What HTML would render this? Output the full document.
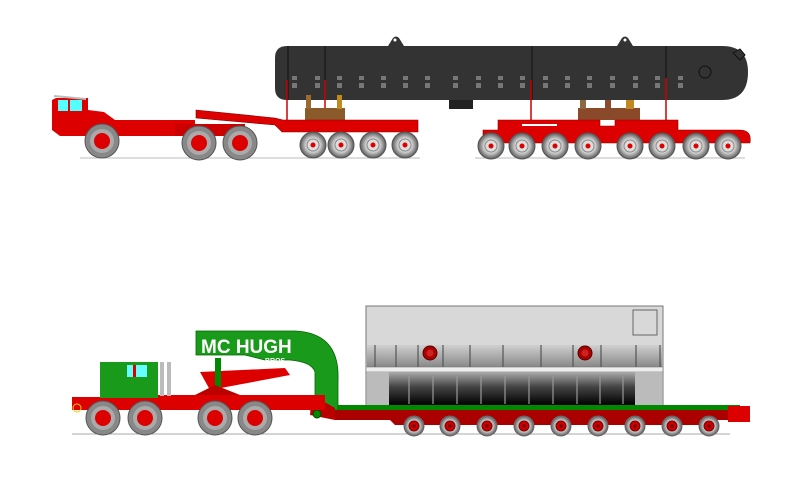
<!DOCTYPE html>
<html><head><style>html,body{margin:0;padding:0;background:#fff;}svg{display:block}</style></head><body>
<svg width="787" height="481" viewBox="0 0 787 481" xmlns="http://www.w3.org/2000/svg" font-family="Liberation Sans, sans-serif">
<defs>
<radialGradient id="tire" cx="50%" cy="50%" r="50%"><stop offset="0.55" stop-color="#d0d0d0"/><stop offset="1" stop-color="#5a5a5a"/></radialGradient>
<linearGradient id="dark" x1="0" y1="0" x2="0" y2="1"><stop offset="0" stop-color="#aaa"/><stop offset="0.45" stop-color="#444"/><stop offset="1" stop-color="#000"/></linearGradient>
<linearGradient id="mid" x1="0" y1="0" x2="0" y2="1"><stop offset="0" stop-color="#d0d0d0"/><stop offset="1" stop-color="#888"/></linearGradient>
<g id="w"><circle r="13" fill="url(#tire)" stroke="#555"/><circle r="6" fill="#ddd" stroke="#888"/><circle r="2.5" fill="#d00"/></g>
<g id="bw"><circle r="17" fill="#888" stroke="#555"/><circle r="12" fill="#aaa"/><circle r="8" fill="#d00"/></g>
<g id="sw"><circle r="10" fill="url(#tire)" stroke="#666"/><circle r="5" fill="#c00" stroke="#700"/><circle r="1.8" fill="#700"/></g>
</defs>

<!-- TOP -->
<line x1="80" y1="158" x2="420" y2="158" stroke="#bbb"/>
<line x1="475" y1="158" x2="745" y2="158" stroke="#bbb"/>
<path d="M287 46 H722 Q748 46 748 72 Q748 100 722 100 H287 Q275 100 275 88 V58 Q275 46 287 46Z" fill="#333"/>
<path d="M388 46 L393 38 Q396 35 399 38 L404 46Z M617 46 L622 38 Q625 35 628 38 L633 46Z" fill="#333"/>
<circle cx="395" cy="40" r="1.5" fill="#fff"/><circle cx="625" cy="40" r="1.5" fill="#fff"/>
<path d="M733 53 L740 49 L745 55 L740 60Z" fill="#333" stroke="#111"/>
<circle cx="705" cy="72" r="6" fill="none" stroke="#111"/>
<g stroke="#111"><line x1="288" y1="46" x2="288" y2="100"/><line x1="325" y1="46" x2="325" y2="100"/><line x1="532" y1="46" x2="532" y2="100"/><line x1="666" y1="46" x2="666" y2="100"/></g>
<g fill="#777">
<rect x="292" y="76" width="5" height="4"/><rect x="292" y="83" width="5" height="5"/>
<rect x="315" y="76" width="5" height="4"/><rect x="315" y="83" width="5" height="5"/>
<rect x="337" y="76" width="5" height="4"/><rect x="337" y="83" width="5" height="5"/>
<rect x="359" y="76" width="5" height="4"/><rect x="359" y="83" width="5" height="5"/>
<rect x="381" y="76" width="5" height="4"/><rect x="381" y="83" width="5" height="5"/>
<rect x="403" y="76" width="5" height="4"/><rect x="403" y="83" width="5" height="5"/>
<rect x="425" y="76" width="5" height="4"/><rect x="425" y="83" width="5" height="5"/>
<rect x="453" y="76" width="5" height="4"/><rect x="453" y="83" width="5" height="5"/>
<rect x="476" y="76" width="5" height="4"/><rect x="476" y="83" width="5" height="5"/>
<rect x="498" y="76" width="5" height="4"/><rect x="498" y="83" width="5" height="5"/>
<rect x="520" y="76" width="5" height="4"/><rect x="520" y="83" width="5" height="5"/>
<rect x="543" y="76" width="5" height="4"/><rect x="543" y="83" width="5" height="5"/>
<rect x="565" y="76" width="5" height="4"/><rect x="565" y="83" width="5" height="5"/>
<rect x="587" y="76" width="5" height="4"/><rect x="587" y="83" width="5" height="5"/>
<rect x="610" y="76" width="5" height="4"/><rect x="610" y="83" width="5" height="5"/>
<rect x="633" y="76" width="5" height="4"/><rect x="633" y="83" width="5" height="5"/>
<rect x="655" y="76" width="5" height="4"/><rect x="655" y="83" width="5" height="5"/>
<rect x="678" y="76" width="5" height="4"/><rect x="678" y="83" width="5" height="5"/>
</g>
<rect x="449" y="100" width="24" height="9" fill="#222"/>
<g stroke="#c00" stroke-width="1.5"><line x1="287" y1="80" x2="287" y2="120"/><line x1="325" y1="80" x2="325" y2="120"/><line x1="531" y1="80" x2="531" y2="121"/><line x1="666" y1="78" x2="666" y2="121"/></g>
<rect x="305" y="108" width="40" height="12" fill="#8a5a2a"/><rect x="306" y="95" width="5" height="14" fill="#9a6a30"/><rect x="337" y="95" width="5" height="14" fill="#c08a20"/>
<rect x="578" y="108" width="62" height="12" fill="#8a4a2a"/><rect x="580" y="100" width="6" height="9" fill="#8a6a40"/><rect x="605" y="100" width="6" height="9" fill="#8a4a30"/><rect x="626" y="100" width="8" height="9" fill="#c08a20"/>
<path d="M56 98 H88 V110 L104 112 L115 120 H195 V136 H60 L52 130 V100Z" fill="#d00"/>
<rect x="58" y="100" width="10" height="11" fill="#5ff"/><rect x="70" y="100" width="12" height="11" fill="#5ff"/>
<line x1="54" y1="96" x2="86" y2="99" stroke="#bbb" stroke-width="2"/>
<path d="M196 110 L275 118 L283 120 H418 V132 H282 L275 125 L196 118Z" fill="#d00" stroke="#800" stroke-width="0.6"/>
<rect x="175" y="124" width="70" height="12" fill="#c00"/>
<use href="#bw" x="102" y="141"/><use href="#bw" x="199" y="143"/><use href="#bw" x="240" y="143"/>
<use href="#w" x="313" y="145"/><use href="#w" x="341" y="145"/><use href="#w" x="373" y="145"/><use href="#w" x="405" y="145"/>
<path d="M483 130 H498 V120 H600 V126 H615 V120 H678 V130 H712 L740 130 Q752 130 750 143 H483Z" fill="#d00" stroke="#800" stroke-width="0.6"/>
<rect x="522" y="124" width="35" height="2" fill="#fff"/>
<use href="#w" x="491" y="146"/><use href="#w" x="522" y="146"/><use href="#w" x="555" y="146"/><use href="#w" x="588" y="146"/>
<use href="#w" x="630" y="146"/><use href="#w" x="662" y="146"/><use href="#w" x="696" y="146"/><use href="#w" x="728" y="146"/>

<!-- BOTTOM -->
<line x1="72" y1="434" x2="730" y2="434" stroke="#aaa"/>
<rect x="366" y="306" width="297" height="100" fill="#d8d8d8" stroke="#777"/>
<rect x="367" y="345" width="295" height="22" fill="url(#mid)"/>
<rect x="366" y="367" width="297" height="5" fill="#eee" stroke="#777" stroke-width="0.6"/>
<rect x="389" y="372" width="246" height="33" fill="url(#dark)"/>
<rect x="367" y="372" width="22" height="33" fill="#bbb"/><rect x="635" y="372" width="27" height="33" fill="#bbb"/>
<g stroke="#555" stroke-width="1.2">
<line x1="375" y1="345" x2="375" y2="367"/><line x1="396" y1="345" x2="396" y2="367"/><line x1="418" y1="345" x2="418" y2="367"/><line x1="443" y1="345" x2="443" y2="367"/><line x1="470" y1="345" x2="470" y2="367"/><line x1="503" y1="345" x2="503" y2="367"/><line x1="541" y1="345" x2="541" y2="367"/><line x1="573" y1="345" x2="573" y2="367"/><line x1="601" y1="345" x2="601" y2="367"/><line x1="636" y1="345" x2="636" y2="367"/><line x1="660" y1="345" x2="660" y2="367"/>
</g>
<g stroke="#999" stroke-width="1.2">
<line x1="409" y1="376" x2="409" y2="404"/><line x1="433" y1="376" x2="433" y2="404"/><line x1="457" y1="376" x2="457" y2="404"/><line x1="481" y1="376" x2="481" y2="404"/><line x1="505" y1="376" x2="505" y2="404"/><line x1="529" y1="376" x2="529" y2="404"/><line x1="553" y1="376" x2="553" y2="404"/><line x1="577" y1="376" x2="577" y2="404"/><line x1="600" y1="376" x2="600" y2="404"/><line x1="623" y1="376" x2="623" y2="404"/>
</g>
<rect x="633" y="310" width="24" height="25" fill="#d8d8d8" stroke="#666"/>
<circle cx="430" cy="353" r="7" fill="#a00" stroke="#500"/><circle cx="430" cy="353" r="3.5" fill="#c22"/>
<circle cx="585" cy="353" r="7" fill="#a00" stroke="#500"/><circle cx="585" cy="353" r="3.5" fill="#c22"/>
<rect x="335" y="405" width="405" height="5" fill="#080"/>
<path d="M335 410 H740 V420 H700 V425 H395 L390 420 H335Z" fill="#a00"/>
<rect x="728" y="406" width="22" height="16" fill="#d00"/>
<use href="#sw" x="414" y="426"/><use href="#sw" x="450" y="426"/><use href="#sw" x="487" y="426"/><use href="#sw" x="524" y="426"/><use href="#sw" x="561" y="426"/><use href="#sw" x="598" y="426"/><use href="#sw" x="635" y="426"/><use href="#sw" x="672" y="426"/><use href="#sw" x="709" y="426"/>
<path d="M196 331 H295 Q340 333 338 380 V410 L310 410 Q305 400 315 395 V372 Q312 362 290 360 H265 L245 355 H196Z" fill="#1a9a1a" stroke="#060" stroke-width="0.8"/>
<path d="M312 395 L310 415 L335 420 L335 408Z" fill="#b00"/>
<circle cx="317" cy="414" r="4" fill="#080" stroke="#040"/>
<text x="201" y="353" fill="#fff" font-size="19" font-weight="bold">MC HUGH</text>
<text x="265" y="363" fill="#fff" font-size="7" font-weight="bold">BROS.</text>
<path d="M200 372 L285 368 L290 375 L210 390 Z" fill="#d00"/>
<rect x="215" y="358" width="6" height="30" fill="#080"/>
<path d="M72 397 H100 L105 366 L120 362 H155 V395 H325 V410 H72Z" fill="#d00"/>
<rect x="100" y="362" width="58" height="36" fill="#1a9a1a"/>
<rect x="127" y="365" width="20" height="12" fill="#6ff"/><rect x="133" y="365" width="3" height="12" fill="#d00"/>
<rect x="160" y="362" width="4" height="34" fill="#bbb"/><rect x="167" y="362" width="4" height="34" fill="#bbb"/>
<circle cx="77" cy="408" r="4" fill="none" stroke="#fc0"/>
<path d="M195 395 L215 385 L240 395Z" fill="#b00"/>
<use href="#bw" x="103" y="418"/><use href="#bw" x="145" y="418"/><use href="#bw" x="215" y="418"/><use href="#bw" x="255" y="418"/>
</svg>
</body></html>
